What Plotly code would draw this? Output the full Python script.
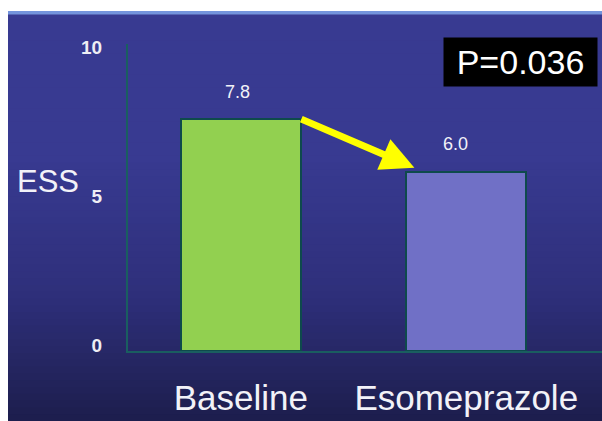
import plotly.graph_objects as go

# ESS5 scores before and after treatment
categories = ["Baseline", "Esomeprazole"]
ess_values = [7.8, 6.0]
bar_colors = ["#92d050", "#7070c6"]
y_tick_values = [0, 5, 10]
y_tick_labels = ["0", "5", "10"]
p_value_text = "P=0.036"

W, H = 602, 421
M_L, M_R, M_T, M_B = 128, 0, 44, 70
PLOT_W = W - M_L - M_R
PLOT_H = H - M_T - M_B


def px_x(px):
    return (px - M_L) / PLOT_W


def px_y(py):
    return (H - M_B - py) / PLOT_H


def lerp(c1, c2, t):
    return tuple(round(a + (b - a) * t) for a, b in zip(c1, c2))


shapes = []
# white frame on the top and left edges
shapes.append(dict(type="rect", xref="paper", yref="paper", x0=px_x(0), x1=px_x(W),
                   y0=px_y(H), y1=px_y(0), fillcolor="white", line_width=0, layer="below"))

# vertical navy gradient background; each band runs to the bottom so no seams show
top_c, mid_c, bot_c = (56, 58, 145), (46, 47, 122), (29, 30, 78)
y_start, y_end = 13, H
n = 60
for i in range(n):
    y0 = y_start + (y_end - y_start) * i / n
    t = i / (n - 1)
    if t < 0.35:
        c = top_c
    elif t < 0.7:
        c = lerp(top_c, mid_c, (t - 0.35) / 0.35)
    else:
        c = lerp(mid_c, bot_c, (t - 0.7) / 0.3)
    shapes.append(dict(type="rect", xref="paper", yref="paper", x0=px_x(8), x1=px_x(W + 2),
                       y0=px_y(H + 2), y1=px_y(y0), fillcolor="rgb(%d,%d,%d)" % c,
                       line_width=0, layer="below"))
# light rim along the top of the slide
shapes.append(dict(type="rect", xref="paper", yref="paper", x0=px_x(8), x1=px_x(W + 2),
                   y0=px_y(14.5), y1=px_y(11), fillcolor="#7494dc", line_width=0, layer="below"))

fig = go.Figure()
fig.add_trace(go.Bar(
    x=categories, y=ess_values, width=0.53,
    marker=dict(color=bar_colors, line=dict(color="#0e4a4c", width=2)),
    hoverinfo="skip",
))

annotations = []
# value labels above bars
label_shift = [27, 28]
label_xshift = [-3, -11]
for cat, v, dy, dx in zip(categories, ess_values, label_shift, label_xshift):
    annotations.append(dict(x=cat, y=v, text=f"{v:.1f}", showarrow=False, yshift=dy, xshift=dx,
                            font=dict(family="Liberation Sans, Arial", size=18, color="#f2f2f8")))

# yellow arrow from the first bar down to the second
annotations.append(dict(
    x=0.77, y=ess_values[1] + 0.15, ax=0.262, ay=ess_values[0],
    xref="x", yref="y", axref="x", ayref="y", text="", showarrow=True,
    arrowhead=2, arrowsize=0.95, arrowwidth=7, arrowcolor="#ffff00",
))

# axis title
annotations.append(dict(x=px_x(48), y=px_y(181), xref="paper", yref="paper", text="ESS",
                        xanchor="center", yanchor="middle", showarrow=False,
                        font=dict(family="Liberation Sans, Arial", size=31, color="#f2f2f8")))

# p-value box
annotations.append(dict(x=px_x(520), y=px_y(62), xref="paper", yref="paper", text=p_value_text,
                        xanchor="center", yanchor="middle", showarrow=False,
                        bgcolor="black", width=153, height=48, borderpad=0,
                        font=dict(family="Liberation Sans, Arial", size=34, color="white")))

fig.update_layout(
    width=W, height=H,
    margin=dict(l=M_L, r=M_R, t=M_T, b=M_B),
    paper_bgcolor="white", plot_bgcolor="rgba(0,0,0,0)",
    shapes=shapes, annotations=annotations, showlegend=False, bargap=0,
)
fig.update_xaxes(
    range=[-0.5, 1.602], showgrid=False, zeroline=False,
    showline=True, linecolor="#1a5e60", linewidth=2, ticks="",
    ticklabelstandoff=15,
    tickfont=dict(family="Liberation Sans, Arial", size=35, color="#f2f2f8"),
)
fig.update_yaxes(
    range=[0, 10.3], showgrid=False, zeroline=False,
    showline=True, linecolor="#1a5e60", linewidth=2, ticks="",
    tickvals=y_tick_values, ticktext=y_tick_labels,
    ticklabelstandoff=20, ticklabelshift=-6,
    tickfont=dict(family="Liberation Sans, Arial", size=19, color="#eeeef4", weight="bold"),
)

fig.write_html("out.html")
